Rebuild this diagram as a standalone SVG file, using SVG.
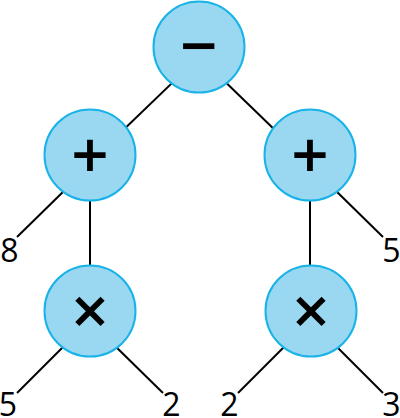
<svg xmlns="http://www.w3.org/2000/svg" width="400" height="418" viewBox="0 0 400 418">
<style>
.edge{stroke:#000;stroke-width:2;fill:none}
.node{fill:#9ad8f1;stroke:#1ab3e8;stroke-width:2}
.op{font-family:"DejaVu Sans",sans-serif;font-size:50px;font-weight:bold;text-anchor:middle;fill:#000}
.leaf{font-family:"Open Sans","Noto Sans",sans-serif;font-size:32px;text-anchor:middle;fill:#000}
</style>
<rect width="400" height="418" fill="#fff"/>
<g id="connectors">
<line class="edge" x1="176.6" y1="78.6" x2="121.7" y2="131.5"/>
<line class="edge" x1="222" y1="78.8" x2="278" y2="133"/>
<line class="edge" x1="90" y1="190" x2="90" y2="275"/>
<line class="edge" x1="310" y1="190" x2="310" y2="275"/>
<line class="edge" x1="67" y1="188" x2="17" y2="237"/>
<line class="edge" x1="333" y1="188" x2="383" y2="237"/>
<line class="edge" x1="67" y1="343" x2="17" y2="393"/>
<line class="edge" x1="112" y1="343" x2="163" y2="393"/>
<line class="edge" x1="288" y1="343" x2="238" y2="393"/>
<line class="edge" x1="333" y1="343" x2="383" y2="393"/>
</g>
<g id="n-minus"><circle class="node" cx="199" cy="47" r="45.5"/><text class="op" x="199" y="62">−</text></g>
<g id="n-plus-left"><circle class="node" cx="90" cy="155" r="45.5"/><text class="op" x="90" y="171">+</text></g>
<g id="n-plus-right"><circle class="node" cx="310" cy="155" r="45.5"/><text class="op" x="310" y="171">+</text></g>
<g id="n-times-left"><circle class="node" cx="90" cy="311" r="45.5"/><text class="op" x="90" y="327">×</text></g>
<g id="n-times-right"><circle class="node" cx="311" cy="311" r="45.5"/><text class="op" x="311" y="327">×</text></g>
<g id="leaf-8"><text class="leaf" x="9.5" y="262">8</text></g>
<g id="leaf-5a"><text class="leaf" x="391.5" y="262">5</text></g>
<g id="leaf-5b"><text class="leaf" x="8" y="416">5</text></g>
<g id="leaf-2a"><text class="leaf" x="171.5" y="416">2</text></g>
<g id="leaf-2b"><text class="leaf" x="229.5" y="416">2</text></g>
<g id="leaf-3"><text class="leaf" x="391.5" y="416">3</text></g>
</svg>
